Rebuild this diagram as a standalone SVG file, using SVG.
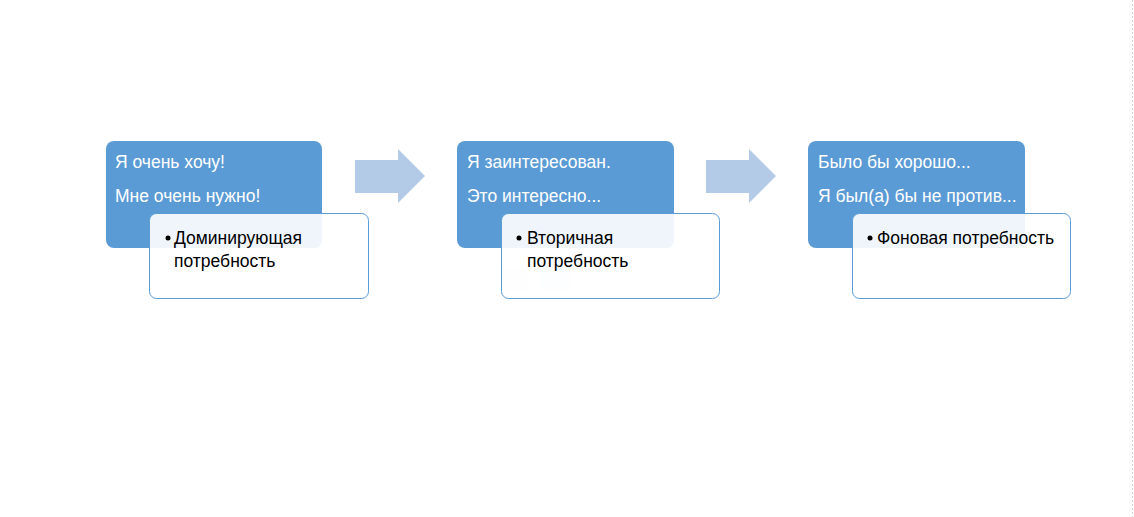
<svg xmlns="http://www.w3.org/2000/svg" width="1134" height="517" viewBox="0 0 1134 517">
<style>
.main{fill:#5B9BD5}
.sub{fill:#FFFFFF;fill-opacity:0.9;stroke:#5B9BD5;stroke-width:1}
.arr{fill:#B4CBE7}
.wt{font-family:"Liberation Sans",Arial,sans-serif;font-size:17.5px;fill:#FFFFFF}
.bt{font-family:"Liberation Sans",Arial,sans-serif;font-size:17.5px;fill:#000000}
</style>
<rect width="1134" height="517" fill="#FFFFFF"/>
<line x1="1132.5" y1="0" x2="1132.5" y2="517" stroke="#D0D0D0" stroke-width="1" stroke-dasharray="2,2"/>
<g id="connectors">
<polygon class="arr" points="355,160 398,160 398,149 425,176 398,203 398,193 355,193"/>
<polygon class="arr" points="706,160 749,160 749,149 776,176 749,203 749,193 706,193"/>
</g>
<g id="node1">
<rect class="main" x="106" y="141" width="216" height="107" rx="8"/>
<text class="wt" x="115" y="168">Я очень хочу!</text>
<text class="wt" x="115" y="202">Мне очень нужно!</text>
<rect class="sub" x="149.5" y="213.5" width="219" height="85" rx="7"/>
<circle cx="168" cy="238" r="2.5" fill="#000"/>
<text class="bt" x="174" y="244">Доминирующая</text>
<text class="bt" x="174" y="267">потребность</text>
</g>
<g id="node2">
<rect class="main" x="457" y="141" width="217" height="107" rx="8"/>
<text class="wt" x="467" y="168">Я заинтересован.</text>
<text class="wt" x="467" y="202">Это интересно...</text>
<g opacity="0.12">
<rect x="501" y="268" width="28" height="22" fill="#8FB070"/>
<rect x="540" y="267" width="30" height="23" fill="#5B9BD5"/>
</g>
<rect class="sub" x="501.5" y="213.5" width="218" height="85" rx="7"/>
<circle cx="519" cy="238" r="2.5" fill="#000"/>
<text class="bt" x="527" y="244">Вторичная</text>
<text class="bt" x="527" y="267">потребность</text>
</g>
<g id="node3">
<rect class="main" x="808" y="141" width="217" height="107" rx="8"/>
<text class="wt" x="818" y="168">Было бы хорошо...</text>
<text class="wt" x="818" y="202">Я был(а) бы не против...</text>
<rect class="sub" x="852.5" y="213.5" width="218" height="85" rx="7"/>
<circle cx="870" cy="238" r="2.5" fill="#000"/>
<text class="bt" x="877" y="244">Фоновая потребность</text>
</g>
</svg>
